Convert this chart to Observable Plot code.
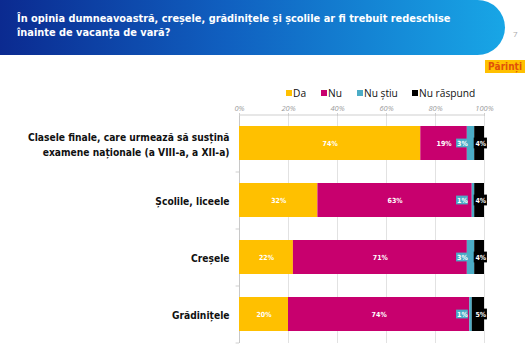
<!DOCTYPE html>
<html><head><meta charset="utf-8">
<script src="https://cdn.jsdelivr.net/npm/d3@7"></script>
<script src="https://cdn.jsdelivr.net/npm/@observablehq/plot@0.6"></script>
<style>
body{margin:0;background:#fff;}
#page{position:relative;width:525px;height:350px;overflow:hidden;font-family:"DejaVu Sans",sans-serif;}
#banner{position:absolute;left:0;top:0;width:505px;height:55px;border-radius:0 28px 28px 0;background:linear-gradient(90deg,#0b2a90 0%,#1060c0 45%,#18a6e6 100%);}
#title{position:absolute;left:17px;top:12px;color:#fff;font-weight:bold;font-size:10.9px;line-height:14px;font-stretch:condensed;}
#pnum{position:absolute;left:513px;top:28px;color:#aaa;font-size:8px;font-family:"Open Sans",sans-serif;}
#tag{position:absolute;left:485px;top:60px;width:60px;height:13px;background:#ffc000;color:#e0500a;font-weight:bold;font-size:10px;line-height:13px;padding-left:3px;box-sizing:border-box;font-stretch:condensed;}
#legend{position:absolute;left:0;top:86px;width:525px;height:14px;font-size:10.2px;color:#111;font-family:"Open Sans",sans-serif;white-space:nowrap;}
#legend span.it{position:absolute;top:0;display:inline-flex;align-items:center;}
#legend i{display:inline-block;width:6px;height:6px;margin-right:1px;}
#chart{position:absolute;left:0;top:98px;}
#chart svg text.cond, #chart svg g.cond text{font-stretch:condensed;}
</style></head>
<body><div id="page">
<div id="banner"><div id="title">În opinia dumneavoastră, creșele, grădinițele și școlile ar fi trebuit redeschise<br>înainte de vacanța de vară?</div></div>
<div id="pnum">7</div>
<div id="tag">Părinți</div>
<div id="legend"></div>
<div id="chart"></div>
</div>
<script>
const categories = ["Clasele finale, care urmează să susțină\nexamene naționale (a VIII-a, a XII-a)", "Școlile, liceele", "Creșele", "Grădinițele"];
const series = ["Da", "Nu", "Nu știu", "Nu răspund"];
const colors = ["#ffc000", "#c8006e", "#4bacc6", "#000000"];
const da = [74, 32, 22, 20];
const nu = [19, 63, 71, 74];
const nuStiu = [3, 1, 3, 1];
const nuRaspund = [4, 4, 4, 5];
const tickValues = [0, 20, 40, 60, 80, 100];

const seriesValues = [da, nu, nuStiu, nuRaspund];
const rows = [];
categories.forEach((c, i) => series.forEach((s, j) => rows.push({cat: c, series: s, value: seriesValues[j][i]})));
const totals = categories.map((c, i) => ({cat: c, total: da[i] + nu[i] + nuStiu[i] + nuRaspund[i], ns: nuStiu[i], nr: nuRaspund[i]}));

// legend
const legendLeft = [286, 321, 357, 412];
const lg = document.getElementById("legend");
series.forEach((s, j) => {
  const el = document.createElement("span"); el.className = "it";
  el.style.left = legendLeft[j] + "px";
  el.innerHTML = `<i style="background:${colors[j]}"></i>${s}`;
  lg.appendChild(el);
});

const step = 57;
const blueX = d => d.total - 9;
const blackX = d => d.total - 1.5;

const plot = Plot.plot({
  width: 525, height: 252,
  marginLeft: 239, marginRight: 41, marginTop: 17, marginBottom: 7,
  x: {domain: [0, 100], axis: null},
  y: {domain: categories, paddingInner: 0.4, paddingOuter: 0.2, axis: null},
  color: {domain: series, range: colors},
  style: {fontFamily: "'DejaVu Sans',sans-serif"},
  marks: [
    Plot.ruleX(tickValues, {stroke: "#e2e2e2"}),
    Plot.ruleX([0], {stroke: "#c8c8c8"}),
    Plot.ruleY([categories[0]], {x1: 0, x2: 100, dy: -step / 2, stroke: "#cfcfcf"}),
    Plot.ruleY(categories, {x1: -1.4, x2: 0, dy: step / 2, stroke: "#cfcfcf"}),
    Plot.axisX(tickValues, {anchor: "top", label: null, tickSize: 3, tickPadding: 2, stroke: "#cfcfcf", tickFormat: d => d + "%", fontSize: 7.5, fontStyle: "italic", fill: "#9a9a9a", fontFamily: "Open Sans, sans-serif"}),
    Plot.barX(rows, Plot.stackX({x: "value", y: "cat", fill: "series", z: "series"})),
    Plot.text(rows, Plot.stackX({x: "value", y: "cat", z: "series", text: d => d.value >= 10 ? d.value + "%" : "", fill: "white", fontWeight: "bold", fontSize: 7, className: "cond"})),
    Plot.rect(totals, {x1: d => blueX(d) - 2.4, x2: d => blueX(d) + 2.4, y: "cat", fill: "#4bacc6", insetTop: 12.6, insetBottom: 12.6}),
    Plot.text(totals, {x: blueX, y: "cat", text: d => d.ns + "%", fill: "white", fontWeight: "bold", fontSize: 7, className: "cond"}),
    Plot.rect(totals, {x1: d => blackX(d) - 2.7, x2: d => blackX(d) + 2.7, y: "cat", fill: "#000", insetTop: 11.6, insetBottom: 11.6}),
    Plot.text(totals, {x: blackX, y: "cat", text: d => d.nr + "%", fill: "white", fontWeight: "bold", fontSize: 7, className: "cond"}),
    Plot.text(categories, {x: 0, y: d => d, text: d => d, dx: -10, textAnchor: "end", fontWeight: "bold", fontSize: 10.2, fill: "#111", lineHeight: 1.5, className: "cond"})
  ]
});
document.getElementById("chart").appendChild(plot);
</script>
</body></html>
